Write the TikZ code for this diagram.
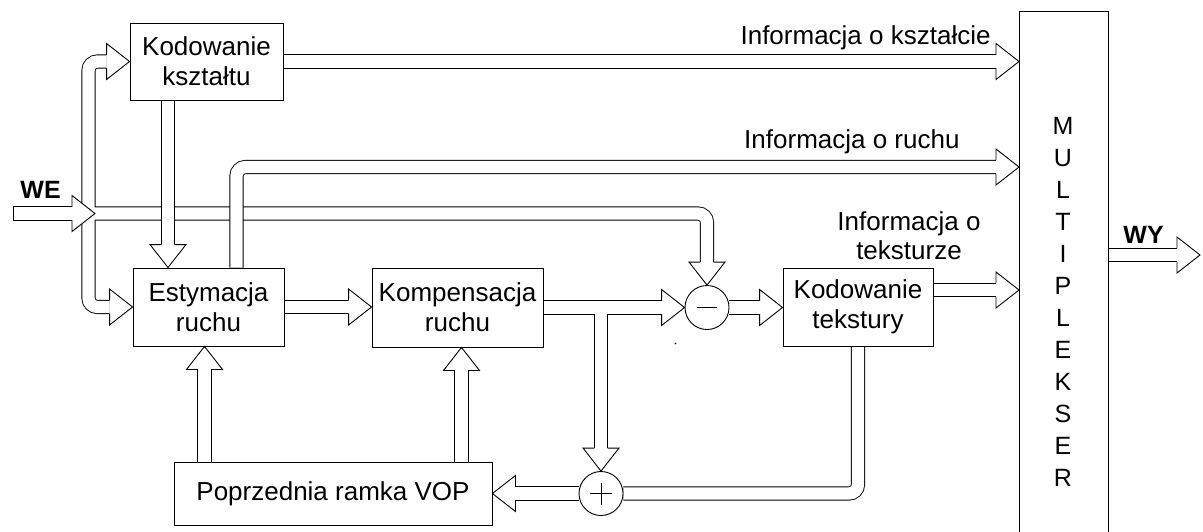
\documentclass[tikz,border=0pt]{standalone}
\usepackage{fontspec}
\setmainfont{Liberation Sans}
\usetikzlibrary{calc}
\pgfdeclarelayer{bg}
\pgfsetlayers{bg,main}

\begin{document}
\begin{tikzpicture}[x=1pt, y=-1pt, line width=0.9pt,
  box/.style={draw, fill=white, inner sep=0pt, align=center,
              font=\fontsize{26}{30}\selectfont},
  sumnode/.style={draw, fill=white, circle, minimum size=44pt, inner sep=0pt},
  lbl/.style={inner sep=0pt, font=\fontsize{26}{30}\selectfont},
  bold/.style={inner sep=0pt, font=\bfseries\fontsize{25}{30}\selectfont},
  shaftout/.style={line width=14.1pt, draw=black, rounded corners=9pt},
  shaftin/.style={line width=12.3pt, draw=white, rounded corners=9pt},
  pics/hd/.style={code={
    \filldraw[fill=white, line width=0.9pt]
      (-23,6.6) -- (-23,18) -- (0,0) -- (-23,-18) -- (-23,-6.6);}}
]
\useasboundingbox (0,0) rectangle (1203,531);
\clip (0,0) rectangle (1203,531);

% blocks
\node[box, minimum width=153pt, minimum height=77pt] (ksz) at (206.5,61.5) {Kodowanie\\kształtu};
\node[box, minimum width=151pt, minimum height=78pt] (est) at (208.5,307) {Estymacja\\ruchu};
\node[box, minimum width=171pt, minimum height=79pt] (komp) at (457.5,307.5) {Kompensacja\\ruchu};
\node[box, minimum width=150pt, minimum height=78pt] (tek) at (858,307) {Kodowanie\\tekstury};
\node[box, minimum width=318pt, minimum height=63pt] (vop) at (333,493.5) {Poprzednia ramka VOP};
\node[sumnode] (minus) at (707,307.5) {};
\node[sumnode] (plus) at (601,493.5) {};
\node[draw, fill=white, inner sep=0pt, minimum width=89pt, minimum height=540pt,
      anchor=north west] (mux) at (1019,11) {};
\node[inner sep=0pt, anchor=north, align=center, font=\fontsize{25}{32}\selectfont]
  (muxt) at (1063,117) {M\\U\\L\\T\\I\\P\\L\\E\\K\\S\\E\\R};

% signs in the summing points
\draw ($(minus.center)+(-10,0)$) -- ($(minus.center)+(10,0)$);
\draw ($(plus.center)+(-11,0)$) -- ($(plus.center)+(11,0)$);
\draw ($(plus.center)+(0,-11)$) -- ($(plus.center)+(0,11)$);

% labels
\node[lbl, anchor=base east] (l1) at (991,44) {Informacja o kształcie};
\node[lbl, anchor=base east] (l2) at (960,148) {Informacja o ruchu};
\node[lbl, anchor=north, align=center, font=\fontsize{26}{29}\selectfont] (l3) at (909,211) {Informacja o\\teksturze};
\node[bold, anchor=base west] (we) at (20,198) {WE};
\node[bold, anchor=base west] (wy) at (1123,243) {WY};

% helper positions of the shafts
\coordinate (busx) at (88.5,0);
\coordinate (wey) at (0,213.5);
\coordinate (win) at (13,213.5);
\coordinate (xd) at (168,0);
\coordinate (xe) at (236.5,0);
\coordinate (ruy) at (0,167);
\coordinate (ty) at (0,290);
\coordinate (xn) at (204.5,0);
\coordinate (xo) at (461.5,0);
\coordinate (wyy) at (0,255);
\coordinate (out) at (1200,255);

\begin{pgfonlayer}{bg}
  % input bus and its branch towards the subtractor
  \draw[shaftout] ($(ksz.west)+(-23,0)$) -| (busx |- est.west) -- ($(est.west)+(-23,0)$);
  \draw[shaftout] (busx |- wey) -| ($(minus.north)+(0,-23)$);
  \draw[shaftin] ($(ksz.west)+(-23,0)$) -| (busx |- est.west) -- ($(est.west)+(-23,0)$);
  \draw[shaftin] (busx |- wey) -| ($(minus.north)+(0,-23)$);
  % WE input
  \draw[shaftout] (win) -- ($(busx |- wey)+(-16.5,0)$);
  \draw[shaftin] ($(win)+(0.9,0)$) -- ($(busx |- wey)+(-16.5,0)$);
  % shape coding -> motion estimation
  \draw[shaftout] (xd |- ksz.south) -- ($(xd |- est.north)+(0,-23)$);
  \draw[shaftin] (xd |- ksz.south) -- ($(xd |- est.north)+(0,-23)$);
  % motion information
  \draw[shaftout] (xe |- est.north) |- ($(mux.west |- ruy)+(-23,0)$);
  \draw[shaftin] (xe |- est.north) |- ($(mux.west |- ruy)+(-23,0)$);
  % shape information
  \draw[shaftout] (ksz.east) -- ($(mux.west |- ksz.east)+(-23,0)$);
  \draw[shaftin] (ksz.east) -- ($(mux.west |- ksz.east)+(-23,0)$);
  % estimation -> compensation
  \draw[shaftout] (est.east) -- ($(komp.west |- est.east)+(-23,0)$);
  \draw[shaftin] (est.east) -- ($(komp.west |- est.east)+(-23,0)$);
  % compensation -> subtractor, with the branch to the adder
  \draw[shaftout] (komp.east |- minus.west) -- ($(minus.west)+(-23,0)$);
  \draw[shaftout] (plus.north |- minus.west) -- ($(plus.north)+(0,-23)$);
  \draw[shaftin] (komp.east |- minus.west) -- ($(minus.west)+(-23,0)$);
  \draw[shaftin] (plus.north |- minus.west) -- ($(plus.north)+(0,-23)$);
  % subtractor -> texture coding
  \draw[shaftout] (minus.east) -- ($(tek.west |- minus.east)+(-23,0)$);
  \draw[shaftin] (minus.east) -- ($(tek.west |- minus.east)+(-23,0)$);
  % texture information
  \draw[shaftout] (tek.east |- ty) -- ($(mux.west |- ty)+(-23,0)$);
  \draw[shaftin] (tek.east |- ty) -- ($(mux.west |- ty)+(-23,0)$);
  % texture coding -> adder
  \draw[shaftout] (tek.south) |- (plus.east);
  \draw[shaftin] (tek.south) |- (plus.east);
  % adder -> previous VOP
  \draw[shaftout] (plus.west) -- ($(vop.east)+(23,0)$);
  \draw[shaftin] (plus.west) -- ($(vop.east)+(23,0)$);
  % previous VOP -> estimation and compensation
  \draw[shaftout] (xn |- vop.north) -- ($(xn |- est.south)+(0,23)$);
  \draw[shaftin] (xn |- vop.north) -- ($(xn |- est.south)+(0,23)$);
  \draw[shaftout] (xo |- vop.north) -- ($(xo |- komp.south)+(0,23)$);
  \draw[shaftin] (xo |- vop.north) -- ($(xo |- komp.south)+(0,23)$);
  % output
  \draw[shaftout] (mux.east |- wyy) -- ($(out)+(-23,0)$);
  \draw[shaftin] (mux.east |- wyy) -- ($(out)+(-23,0)$);
\end{pgfonlayer}

% arrow heads
\pic at (ksz.west) {hd};
\pic at (est.west) {hd};
\pic at ($(busx |- wey)+(6.5,0)$) {hd};
\pic[rotate=-90] at (minus.north) {hd};
\pic[rotate=-90] at (xd |- est.north) {hd};
\pic at (mux.west |- ruy) {hd};
\pic at (mux.west |- ksz.east) {hd};
\pic at (komp.west |- est.east) {hd};
\pic at (minus.west) {hd};
\pic[rotate=-90] at (plus.north) {hd};
\pic at (tek.west |- minus.east) {hd};
\pic at (mux.west |- ty) {hd};
\pic[rotate=180] at (vop.east) {hd};
\pic[rotate=90] at (xn |- est.south) {hd};
\pic[rotate=90] at (xo |- komp.south) {hd};
\pic at (out) {hd};

% stray dot
\fill (675.5,343.5) circle (0.8pt);
\end{tikzpicture}
\end{document}
